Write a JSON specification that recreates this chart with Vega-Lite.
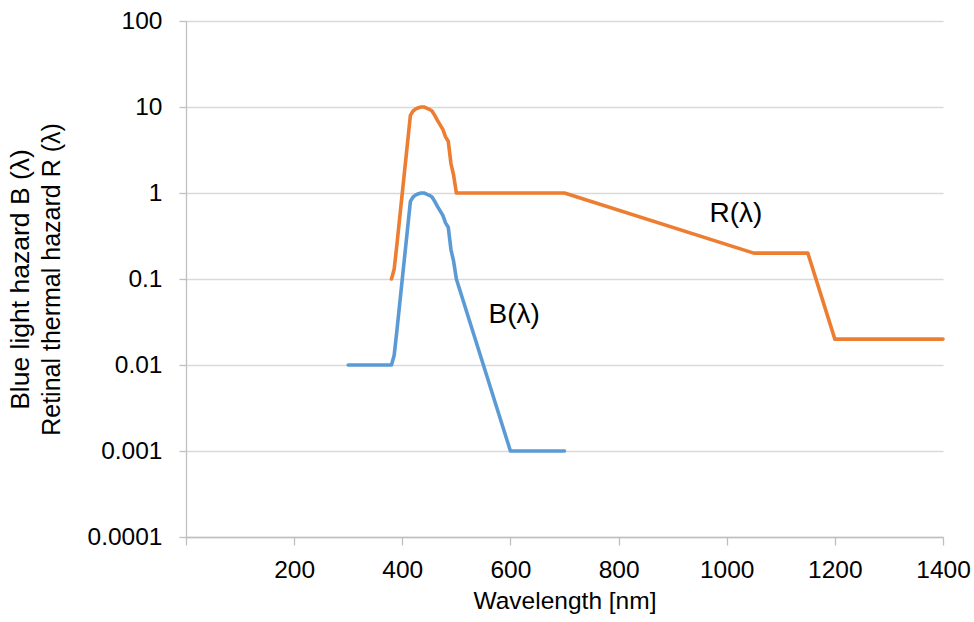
{
  "$schema": "https://vega.github.io/schema/vega-lite/v6.json",
  "autosize": "none",
  "width": 757,
  "height": 516,
  "padding": {"left": 186, "top": 21, "right": 31, "bottom": 85},
  "background": "white",
  "config": {
    "font": "Liberation Sans",
    "view": {"stroke": null},
    "axis": {
      "labelFont": "Liberation Sans",
      "titleFont": "Liberation Sans",
      "labelFontSize": 24.5,
      "titleFontSize": 24.5,
      "labelColor": "#000000",
      "titleColor": "#000000",
      "titleFontWeight": "normal",
      "domainColor": "#bfbfbf",
      "domainWidth": 1.3,
      "tickColor": "#bfbfbf",
      "tickWidth": 1.3,
      "gridColor": "#d9d9d9",
      "gridWidth": 1.3
    }
  },
  "datasets": {
    "curves": [
      {"wl": 300, "v": 0.01, "s": "B"},
      {"wl": 380, "v": 0.01, "s": "B"},
      {"wl": 385, "v": 0.013, "s": "B"},
      {"wl": 390, "v": 0.025, "s": "B"},
      {"wl": 395, "v": 0.05, "s": "B"},
      {"wl": 400, "v": 0.1, "s": "B"},
      {"wl": 405, "v": 0.2, "s": "B"},
      {"wl": 410, "v": 0.4, "s": "B"},
      {"wl": 415, "v": 0.8, "s": "B"},
      {"wl": 420, "v": 0.9, "s": "B"},
      {"wl": 425, "v": 0.95, "s": "B"},
      {"wl": 430, "v": 0.98, "s": "B"},
      {"wl": 435, "v": 1.0, "s": "B"},
      {"wl": 440, "v": 1.0, "s": "B"},
      {"wl": 445, "v": 0.97, "s": "B"},
      {"wl": 450, "v": 0.94, "s": "B"},
      {"wl": 455, "v": 0.9, "s": "B"},
      {"wl": 460, "v": 0.8, "s": "B"},
      {"wl": 465, "v": 0.7, "s": "B"},
      {"wl": 470, "v": 0.62, "s": "B"},
      {"wl": 475, "v": 0.55, "s": "B"},
      {"wl": 480, "v": 0.45, "s": "B"},
      {"wl": 485, "v": 0.4, "s": "B"},
      {"wl": 490, "v": 0.22, "s": "B"},
      {"wl": 495, "v": 0.16, "s": "B"},
      {"wl": 500, "v": 0.1, "s": "B"},
      {"wl": 600, "v": 0.001, "s": "B"},
      {"wl": 700, "v": 0.001, "s": "B"},
      {"wl": 380, "v": 0.1, "s": "R"},
      {"wl": 385, "v": 0.13, "s": "R"},
      {"wl": 390, "v": 0.25, "s": "R"},
      {"wl": 395, "v": 0.5, "s": "R"},
      {"wl": 400, "v": 1.0, "s": "R"},
      {"wl": 405, "v": 2.0, "s": "R"},
      {"wl": 410, "v": 4.0, "s": "R"},
      {"wl": 415, "v": 8.0, "s": "R"},
      {"wl": 420, "v": 9.0, "s": "R"},
      {"wl": 425, "v": 9.5, "s": "R"},
      {"wl": 430, "v": 9.8, "s": "R"},
      {"wl": 435, "v": 10.0, "s": "R"},
      {"wl": 440, "v": 10.0, "s": "R"},
      {"wl": 445, "v": 9.7, "s": "R"},
      {"wl": 450, "v": 9.4, "s": "R"},
      {"wl": 455, "v": 9.0, "s": "R"},
      {"wl": 460, "v": 8.0, "s": "R"},
      {"wl": 465, "v": 7.0, "s": "R"},
      {"wl": 470, "v": 6.2, "s": "R"},
      {"wl": 475, "v": 5.5, "s": "R"},
      {"wl": 480, "v": 4.5, "s": "R"},
      {"wl": 485, "v": 4.0, "s": "R"},
      {"wl": 490, "v": 2.2, "s": "R"},
      {"wl": 495, "v": 1.6, "s": "R"},
      {"wl": 500, "v": 1.0, "s": "R"},
      {"wl": 700, "v": 1.0, "s": "R"},
      {"wl": 1050, "v": 0.2, "s": "R"},
      {"wl": 1150, "v": 0.2, "s": "R"},
      {"wl": 1200, "v": 0.02, "s": "R"},
      {"wl": 1400, "v": 0.02, "s": "R"}
    ],
    "labels": [
      {"wl": 1017, "v": 0.46, "text": "R(λ)"},
      {"wl": 607, "v": 0.031, "text": "B(λ)"}
    ]
  },
  "resolve": {"axis": {"y": "independent"}},
  "layer": [
    {
      "data": {"name": "curves"},
      "mark": {"type": "line", "strokeWidth": 3.6, "strokeJoin": "round", "strokeCap": "round"},
      "encoding": {
        "x": {
          "field": "wl",
          "type": "quantitative",
          "scale": {"domain": [0, 1400], "nice": false, "zero": false},
          "axis": {
            "title": "Wavelength [nm]",
            "values": [0, 200, 400, 600, 800, 1000, 1200, 1400],
            "labelExpr": "datum.value == 0 ? '' : format(datum.value, 'd')",
            "grid": false,
            "tickSize": 8,
            "labelPadding": 13,
            "titlePadding": 8,
            "labelFlush": false,
            "labelOverlap": false
          }
        },
        "y": {
          "field": "v",
          "type": "quantitative",
          "scale": {"type": "log", "domain": [0.0001, 100], "nice": false},
          "axis": {
            "orient": "left",
            "title": "Retinal thermal hazard R (λ)",
            "titleFontSize": 25,
            "values": [0.0001, 0.001, 0.01, 0.1, 1, 10, 100],
            "labelExpr": "format(datum.value, '~g')",
            "grid": true,
            "tickSize": 7,
            "labelPadding": 17,
            "titlePadding": 23,
            "labelOverlap": false
          }
        },
        "color": {
          "field": "s",
          "type": "nominal",
          "scale": {"domain": ["B", "R"], "range": ["#5b9bd5", "#ed7d31"]},
          "legend": null
        },
        "order": {"field": "wl", "type": "quantitative"}
      }
    },
    {
      "data": {"name": "labels"},
      "mark": {"type": "text", "fontSize": 28, "font": "Liberation Sans", "align": "center", "baseline": "alphabetic", "color": "#000000"},
      "encoding": {
        "x": {"field": "wl", "type": "quantitative"},
        "y": {
          "field": "v",
          "type": "quantitative",
          "axis": {
            "orient": "left",
            "title": "Blue light hazard B (λ)",
            "titleFontSize": 26.5,
            "labels": false,
            "ticks": false,
            "domain": false,
            "grid": false,
            "titlePadding": 152
          }
        },
        "text": {"field": "text"}
      }
    }
  ]
}
